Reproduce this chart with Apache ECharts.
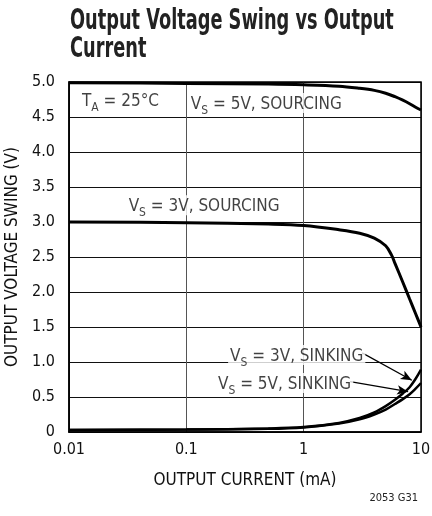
<!DOCTYPE html>
<html>
<head>
<meta charset="utf-8">
<script src="https://cdn.jsdelivr.net/npm/echarts@6/dist/echarts.min.js"></script>
<style>
  html, body { margin: 0; padding: 0; background: #fff; }
  #chart { width: 432px; height: 516px; }
</style>
</head>
<body>
<div id="chart"></div>
<script>
// Output current (mA) sample points for each curve
const currentSrc5 = [0.01, 0.1, 0.5, 1, 2, 3, 4, 5, 6, 7, 8, 9, 10];
const swingSrc5   = [4.99, 4.98, 4.97, 4.96, 4.94, 4.91, 4.88, 4.84, 4.79, 4.74, 4.69, 4.64, 4.6];

const currentSrc3 = [0.01, 0.1, 0.5, 1, 2, 3, 4, 5, 5.6, 6, 7, 8, 9, 10];
const swingSrc3   = [3.0, 2.99, 2.97, 2.95, 2.89, 2.84, 2.77, 2.66, 2.53, 2.41, 2.14, 1.90, 1.69, 1.5];

const currentSnk = [0.01, 0.1, 0.5, 1, 2, 3, 4, 5, 6, 7, 8, 9, 10];
const swingSnk3  = [0.03, 0.035, 0.05, 0.07, 0.13, 0.2, 0.28, 0.37, 0.46, 0.55, 0.64, 0.76, 0.89];
const swingSnk5  = [0.03, 0.035, 0.045, 0.065, 0.12, 0.18, 0.25, 0.32, 0.4, 0.47, 0.54, 0.62, 0.70];

// Axis ticks
const xTicks = [0.01, 0.1, 1, 10];
const yTickLabels = ['0', '0.5', '1.0', '1.5', '2.0', '2.5', '3.0', '3.5', '4.0', '4.5', '5.0'];

// Curve annotations: [current, voltage, text]
const notes = [
  [0.0124, 4.74, '{t|T}{s|A}{t| = 25°C}'],
  [0.105, 4.70, '{t|V}{s|S}{t| = 5V, SOURCING}'],
  [0.031, 3.24, '{t|V}{s|S}{t| = 3V, SOURCING}'],
  [0.227, 1.10, '{t|V}{s|S}{t| = 3V, SINKING}'],
  [0.179, 0.70, '{t|V}{s|S}{t| = 5V, SINKING}']
];
// Leader arrows: [fromCurrent, fromV, toCurrent, toV]
const arrows = [
  [3.15, 1.13, 8.35, 0.74],
  [2.49, 0.72, 7.77, 0.576]
];

const FONT = "'DejaVu Sans Condensed', 'Liberation Sans Narrow', sans-serif";
const pair = (xs, ys) => xs.map((x, i) => [x, ys[i]]);

const chart = echarts.init(document.getElementById('chart'));

const curve = (name, data, width) => ({
  name, type: 'line', data, symbol: 'none', smooth: 0.35,
  lineStyle: { color: '#000', width },
  z: 3, animation: false
});

chart.setOption({
  animation: false,
  grid: { left: 69, right: 11, top: 82, bottom: 84, containLabel: false, outerBoundsMode: 'none' },
  xAxis: {
    type: 'log', logBase: 10, min: 0.01, max: 10,
    name: 'OUTPUT CURRENT (mA)', nameLocation: 'middle', nameGap: 40,
    nameTextStyle: { fontFamily: FONT, fontSize: 17, color: '#111' },
    axisLine: { show: true, onZero: false, lineStyle: { color: '#000', width: 1.5 } },
    axisTick: { show: false },
    minorTick: { show: false },
    axisLabel: {
      fontFamily: FONT, fontSize: 16, color: '#111', margin: 10,
      formatter: v => xTicks.includes(+(+v).toPrecision(3)) ? String(+(+v).toPrecision(3)) : ''
    },
    splitLine: { show: true, lineStyle: { color: '#555', width: 1 } }
  },
  yAxis: {
    type: 'value', min: 0, max: 5, interval: 0.5,
    name: 'OUTPUT VOLTAGE SWING (V)', nameLocation: 'middle', nameGap: 46,
    nameTextStyle: { fontFamily: FONT, fontSize: 17, color: '#111' },
    axisLine: { show: true, lineStyle: { color: '#000', width: 1.5 } },
    axisTick: { show: false },
    axisLabel: {
      fontFamily: FONT, fontSize: 16, color: '#111', margin: 14,
      formatter: v => yTickLabels[Math.round(v / 0.5)]
    },
    splitLine: { show: true, lineStyle: { color: '#111', width: 1 } }
  },
  graphic: [
    {
      // Condensed bold heading
      type: 'text', x: 70, y: 8, scaleX: 0.705, z: 10,
      style: {
        text: 'Output Voltage Swing vs Output\nCurrent',
        font: "bold 28px " + FONT, lineHeight: 28, fill: '#222'
      }
    },
    {
      type: 'rect', silent: true, z: 10,
      shape: { x: 69, y: 82, width: 352, height: 350 },
      style: { fill: 'none', stroke: '#000', lineWidth: 1.5 }
    },
    {
      type: 'text', right: 14, top: 493, z: 10,
      style: { text: '2053 G31', font: "11px " + FONT, fill: '#222' }
    }
  ],
  series: [
    curve('VS = 5V, SOURCING', pair(currentSrc5, swingSrc5), 3),
    curve('VS = 3V, SOURCING', pair(currentSrc3, swingSrc3), 3),
    curve('VS = 3V, SINKING', pair(currentSnk, swingSnk3), 2.5),
    curve('VS = 5V, SINKING', pair(currentSnk, swingSnk5), 2.5),
    {
      name: 'notes', type: 'scatter', symbolSize: 0, z: 5,
      data: notes.map(n => ({ value: [n[0], n[1]], text: n[2] })),
      label: {
        show: true, position: 'right', distance: 0,
        formatter: p => p.data.text,
        backgroundColor: '#fff', padding: [0, 2, 0, 2],
        rich: {
          t: { fontFamily: FONT, fontSize: 17, color: '#111', lineHeight: 20, verticalAlign: 'bottom' },
          s: { fontFamily: FONT, fontSize: 12, color: '#111', lineHeight: 20, verticalAlign: 'bottom', padding: [0, 0, -4, 0] }
        }
      }
    },
    {
      name: 'arrows', type: 'line', data: [], z: 6,
      markLine: {
        silent: true, animation: false,
        symbol: ['none', 'arrow'], symbolSize: [7, 11],
        label: { show: false },
        lineStyle: { color: '#000', width: 1.2, type: 'solid' },
        data: arrows.map(a => [{ coord: [a[0], a[1]] }, { coord: [a[2], a[3]] }])
      }
    }
  ]
});
</script>
</body>
</html>
